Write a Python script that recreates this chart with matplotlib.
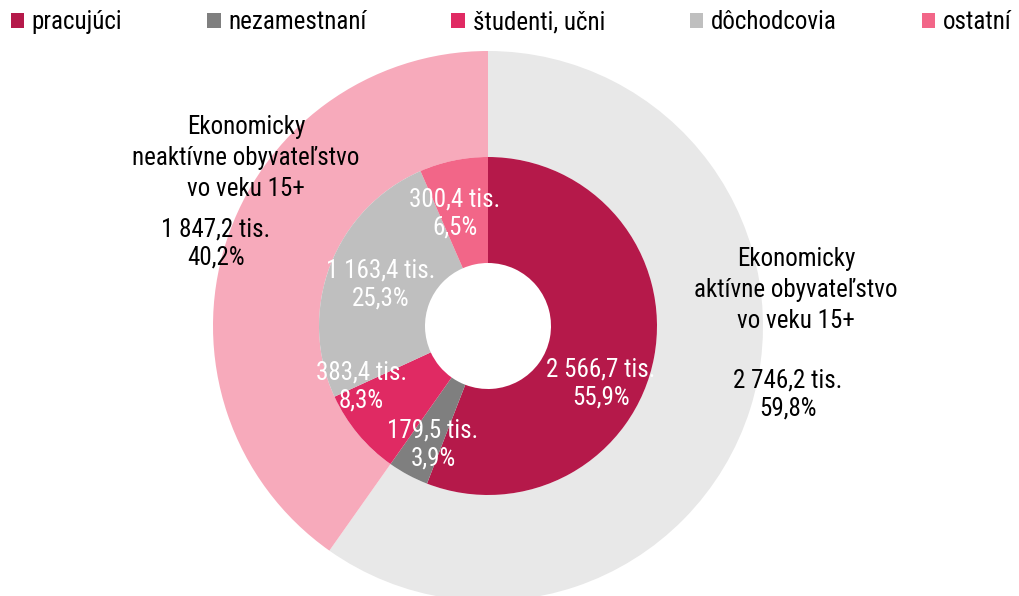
import matplotlib
matplotlib.use("Agg")
import matplotlib.pyplot as plt
from matplotlib.patches import Patch

plt.rcParams['font.family'] = ['Roboto Condensed', 'Liberation Sans', 'DejaVu Sans']

# outer ring: economically active / inactive population 15+ (thousands)
outer_labels = ["Ekonomicky\naktívne obyvateľstvo\nvo veku 15+",
                "Ekonomicky\nneaktívne obyvateľstvo\nvo veku 15+"]
outer_values = [2746.2, 1847.2]
outer_pct = ["59,8%", "40,2%"]
outer_colors = ["#e8e8e8", "#f7aabb"]

# inner ring: detailed groups (thousands)
inner_labels = ["pracujúci", "nezamestnaní", "študenti, učni", "dôchodcovia", "ostatní"]
inner_values = [2566.7, 179.5, 383.4, 1163.4, 300.4]
inner_pct = ["55,9%", "3,9%", "8,3%", "25,3%", "6,5%"]
inner_colors = ["#b5194a", "#7f7f7f", "#e02a63", "#bfbfbf", "#f26688"]


def fmt(v):
    s = f"{v:,.1f}".replace(",", " ").replace(".", ",")
    return s + " tis."


fig = plt.figure(figsize=(10.19, 5.96), dpi=100)
# square axes centred at (488, 326) px, radius 275 px
ax = fig.add_axes([(488 - 275) / 1019, (270 - 275) / 596, 550 / 1019, 550 / 596])

r_out = 1.0
r_mid = 169 / 275
r_in = 63 / 275

ax.pie(outer_values, radius=r_out, colors=outer_colors, startangle=90,
       counterclock=False, wedgeprops=dict(width=r_out - r_mid, linewidth=0))
ax.pie(inner_values, radius=r_mid, colors=inner_colors, startangle=90,
       counterclock=False, wedgeprops=dict(width=r_mid - r_in, linewidth=0))
ax.set_xlim(-1, 1)
ax.set_ylim(-1, 1)
ax.set_aspect("auto")
ax.axis("off")

# label positions inside the inner ring (data units)
inner_pos = [(0.41, -0.21), (-0.20, -0.43), (-0.46, -0.22), (-0.39, 0.15), (-0.12, 0.41)]
for v, p, (x, y) in zip(inner_values, inner_pct, inner_pos):
    ax.text(x, y, fmt(v) + "\n" + p, color="white", fontsize=18,
            ha="center", va="center", linespacing=1.2)

# outer ring labels
outer_title_pos = [(1.12, 0.13), (-0.88, 0.61)]
outer_val_pos = [(1.09, -0.25), (-0.99, 0.30)]
for lab, v, p, (tx, ty), (vx, vy) in zip(outer_labels, outer_values, outer_pct,
                                          outer_title_pos, outer_val_pos):
    ax.text(tx, ty, lab, color="black", fontsize=18, ha="center", va="center",
            linespacing=1.36)
    ax.text(vx, vy, fmt(v) + "\n" + p, color="black", fontsize=18,
            ha="center", va="center", linespacing=1.2)

handles = [Patch(facecolor=c, edgecolor="none") for c in inner_colors]
fig.legend(handles, inner_labels, loc="upper left", ncol=5, mode="expand",
           bbox_to_anchor=(0.003, 0.995, 0.997, 0.0), frameon=False, fontsize=18,
           handlelength=0.55, handleheight=0.55, handletextpad=0.3,
           borderaxespad=0.2, borderpad=0.1)

fig.savefig("out.png", dpi=100)
